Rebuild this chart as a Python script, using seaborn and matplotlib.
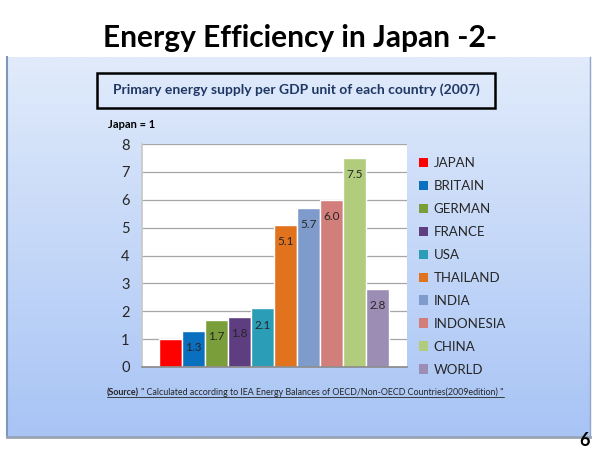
import numpy as np
import pandas as pd
import matplotlib.pyplot as plt
import seaborn as sns
from matplotlib.patches import Rectangle, Patch
from matplotlib.lines import Line2D
from matplotlib.colors import LinearSegmentedColormap

# data (Japan = 1)
countries = ['JAPAN', 'BRITAIN', 'GERMAN', 'FRANCE', 'USA',
             'THAILAND', 'INDIA', 'INDONESIA', 'CHINA', 'WORLD']
values = [1.0, 1.3, 1.7, 1.8, 2.1, 5.1, 5.7, 6.0, 7.5, 2.8]
value_labels = ['', '1.3', '1.7', '1.8', '2.1', '5.1', '5.7', '6.0', '7.5', '2.8']
bar_colors = ['#ff0000', '#0b6fbf', '#7a9e3a', '#5e3d80', '#2b9db6',
              '#e2731e', '#7f9bcb', '#d27e7b', '#b0cc7c', '#9c8db5']
yticks = list(range(0, 9))

sns.set_theme(style='white')
plt.rcParams['font.family'] = ['Lato', 'DejaVu Sans']

fig = plt.figure(figsize=(6, 4.5), dpi=100)
fig.patch.set_facecolor('white')

W, H = 600, 450

def fx(px):
    return px / W

def fy(py):
    return 1 - py / H

# slide panel with vertical gradient
bg = fig.add_axes([fx(7), fy(437), fx(583), 380 / H], zorder=0)
cmap = LinearSegmentedColormap.from_list('panel', ['#e1ebfb', '#a8c4f5'])
bg.imshow(np.linspace(0, 1, 256).reshape(-1, 1), aspect='auto', cmap=cmap,
          extent=[0, 1, 0, 1], origin='upper')
bg.set_xticks([])
bg.set_yticks([])
bg.spines['top'].set_visible(False)
bg.spines['left'].set_color('#7f96b8')
bg.spines['left'].set_linewidth(1.5)
bg.spines['right'].set_color('#8fa6c8')
bg.spines['right'].set_linewidth(1.0)
bg.spines['bottom'].set_color('#98a3b4')
bg.spines['bottom'].set_linewidth(2.0)

# bar chart
ax = fig.add_axes([fx(142), fy(367), 265 / W, 223 / H], zorder=2)
df = pd.DataFrame({'country': countries, 'value': values})
sns.barplot(data=df, x='country', y='value', hue='country', palette=bar_colors,
            width=1, saturation=1, legend=False, ax=ax)
ax.set_facecolor('white')
ax.set_xlim(-1.24, 10.26)
ax.set_ylim(0, 8)
ax.set_yticks(yticks)
ax.set_xticks([])
ax.set_xlabel('')
ax.set_ylabel('')
ax.yaxis.grid(True, color='#a6a6a6', lw=0.9)
ax.set_axisbelow(True)
ax.spines['top'].set_visible(False)
ax.spines['right'].set_visible(False)
ax.spines['left'].set_color('#c8c8c8')
ax.spines['bottom'].set_color('#8c8c8c')
ax.tick_params(axis='y', length=0, pad=9, labelsize=10.5, labelcolor='#262626')

for cont, lab in zip(ax.containers, value_labels):
    ax.bar_label(cont, labels=[lab], padding=-16, fontsize=8.5, color='#262626')

handles = [Patch(facecolor=c, edgecolor='none') for c in bar_colors]
ax.legend(handles, countries, loc='upper left',
          bbox_to_anchor=(fx(419), fy(157)), bbox_transform=fig.transFigure,
          frameon=False, fontsize=9.5, handlelength=0.7, handleheight=0.7,
          handletextpad=0.4, labelspacing=0.83, borderpad=0, borderaxespad=0,
          labelcolor='#262626')

# texts
fig.text(0.5, fy(38), 'Energy Efficiency in Japan -2-', ha='center', va='center',
         fontsize=21.5, weight='bold', color='black')

fig.add_artist(Rectangle((fx(97), fy(108)), 398 / W, 35 / H, fill=False,
                         edgecolor='black', lw=1.8, transform=fig.transFigure, zorder=3))
fig.text(fx(296), fy(90), 'Primary energy supply per GDP unit of each country (2007)',
         ha='center', va='center', fontsize=10, weight='bold', color='#1f3763', zorder=4)

fig.text(fx(108), fy(125), 'Japan = 1', ha='left', va='center', fontsize=8,
         weight='bold', color='black', zorder=4)

src1 = fig.text(fx(107), fy(395), '(Source)', ha='left', va='baseline', fontsize=6.4,
                weight='bold', color='#262626', zorder=4)
fig.canvas.draw()
r = fig.canvas.get_renderer()
b1 = src1.get_window_extent(r)
src2 = fig.text((b1.x1 + 2) / W, fy(395),
                '" Calculated according to IEA Energy Balances of OECD/Non-OECD Countries(2009edition) "',
                ha='left', va='baseline', fontsize=6.4, color='#262626', zorder=4)
fig.canvas.draw()
b2 = src2.get_window_extent(r)
uy = (H - 395 - 2) / H
fig.add_artist(Line2D([b1.x0 / W, b2.x1 / W], [uy, uy], color='#262626', lw=0.6,
                      transform=fig.transFigure, zorder=4))

fig.text(fx(590), fy(440), '6', ha='right', va='center', fontsize=13,
         weight='bold', color='black', zorder=4)

fig.savefig('out.png', dpi=100)
